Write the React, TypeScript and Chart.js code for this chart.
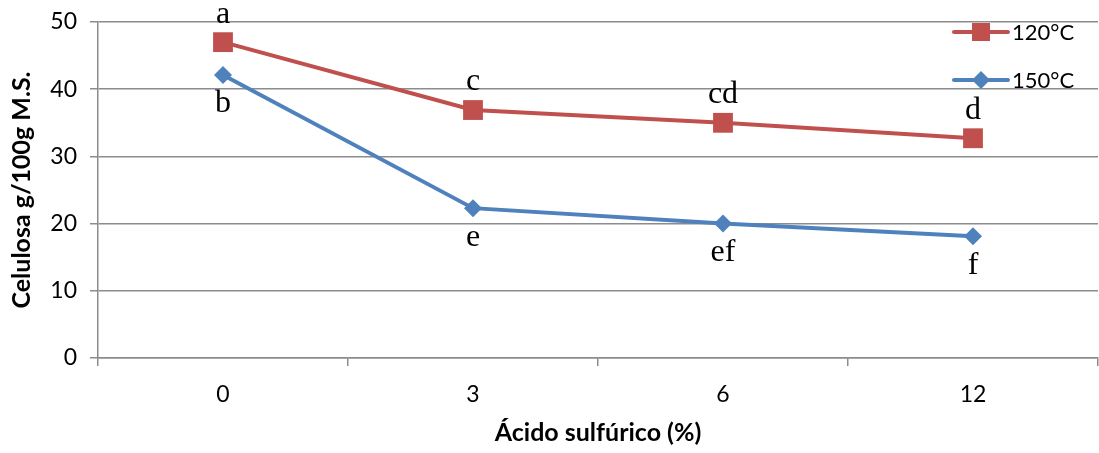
import React, { useEffect, useRef } from "react";
import { Chart, registerables } from "chart.js";

Chart.register(...registerables);

// Sulfuric acid concentration (%) on the x axis
const categories = ["0", "3", "6", "12"];

// Cellulose (g/100 g dry matter) per temperature
const series120 = [47.0, 36.9, 35.0, 32.7];
const series150 = [42.1, 22.3, 20.0, 18.1];

// Significance letters shown beside each point
const letters120 = ["a", "c", "cd", "d"];
const letters150 = ["b", "e", "ef", "f"];

const seriesNames = ["120°C", "150°C"];
const yTicks = [0, 10, 20, 30, 40, 50];

const RED = "#C0504D";
const BLUE = "#4F81BD";
const GRID = "#8c8c8c";
const SANS = "Lato, 'Liberation Sans', sans-serif";

const letterPlugin = {
  id: "letters",
  afterDatasetsDraw(chart: any) {
    const ctx = chart.ctx;
    ctx.save();
    ctx.font = "32px 'Liberation Serif', 'Times New Roman', serif";
    ctx.fillStyle = "#000";
    ctx.textAlign = "center";
    ctx.textBaseline = "middle";
    const sets = [
      { idx: 0, labels: letters120, dy: -28 },
      { idx: 1, labels: letters150, dy: 29 },
    ];
    sets.forEach((s) => {
      const meta = chart.getDatasetMeta(s.idx);
      meta.data.forEach((pt: any, i: number) => {
        ctx.fillText(s.labels[i], pt.x, pt.y + s.dy);
      });
    });
    ctx.restore();
  },
};

const legendPlugin = {
  id: "customLegend",
  afterDraw(chart: any) {
    const ctx = chart.ctx;
    ctx.save();
    const x0 = 954;
    const x1 = 1008;
    const rows = [
      { y: 32, color: RED, shape: "rect", text: seriesNames[0] },
      { y: 80, color: BLUE, shape: "diamond", text: seriesNames[1] },
    ];
    rows.forEach((r) => {
      ctx.strokeStyle = r.color;
      ctx.lineWidth = 4;
      ctx.lineCap = "round";
      ctx.beginPath();
      ctx.moveTo(x0, r.y);
      ctx.lineTo(x1, r.y);
      ctx.stroke();
      ctx.fillStyle = r.color;
      const cx = (x0 + x1) / 2;
      if (r.shape === "rect") {
        ctx.fillRect(cx - 9, r.y - 9, 18, 18);
      } else {
        ctx.beginPath();
        ctx.moveTo(cx, r.y - 9);
        ctx.lineTo(cx + 9, r.y);
        ctx.lineTo(cx, r.y + 9);
        ctx.lineTo(cx - 9, r.y);
        ctx.closePath();
        ctx.fill();
      }
      ctx.fillStyle = "#000";
      ctx.font = `22px ${SANS}`;
      ctx.textAlign = "left";
      ctx.textBaseline = "middle";
      ctx.fillText(r.text, x1 + 4, r.y + 1);
    });
    ctx.restore();
  },
};

export default function App() {
  const canvasRef = useRef<HTMLCanvasElement | null>(null);

  useEffect(() => {
    document.body.style.margin = "0";
    const canvas = canvasRef.current;
    if (!canvas) return;
    const chart = new Chart(canvas, {
      type: "line",
      data: {
        labels: categories,
        datasets: [
          {
            label: seriesNames[0],
            data: series120,
            borderColor: RED,
            backgroundColor: RED,
            borderWidth: 4,
            pointStyle: "rect",
            pointRadius: 14,
            pointHoverRadius: 14,
            pointBorderWidth: 0,
            tension: 0,
          },
          {
            label: seriesNames[1],
            data: series150,
            borderColor: BLUE,
            backgroundColor: BLUE,
            borderWidth: 4,
            pointStyle: "rectRot",
            pointRadius: 9,
            pointHoverRadius: 9,
            pointBorderWidth: 0,
            tension: 0,
          },
        ],
      },
      options: {
        animation: false,
        responsive: false,
        devicePixelRatio: 1,
        layout: {
          autoPadding: false,
          padding: { top: 22, right: 1, bottom: 0, left: 0 },
        },
        plugins: {
          legend: { display: false },
          tooltip: { enabled: false },
        },
        scales: {
          x: {
            offset: true,
            grid: {
              offset: true,
              drawOnChartArea: false,
              drawTicks: true,
              tickLength: 8,
              color: GRID,
              lineWidth: 1.5,
            },
            border: { display: true, color: GRID, width: 1.5 },
            ticks: {
              color: "#000",
              font: { family: SANS, size: 23 },
              padding: 15,
            },
            title: {
              display: true,
              text: "Ácido sulfúrico (%)",
              color: "#000",
              font: { family: SANS, size: 25, weight: "bold" },
              padding: { top: 8, bottom: 5 },
            },
            afterFit(scale: any) {
              scale.height = 95;
              scale.paddingLeft = 0;
              scale.paddingRight = 0;
            },
          },
          y: {
            min: 0,
            max: 50,
            afterBuildTicks(scale: any) {
              scale.ticks = yTicks.map((v) => ({ value: v }));
            },
            grid: {
              color: GRID,
              lineWidth: 1.5,
              drawTicks: true,
              tickLength: 8,
            },
            border: { display: true, color: GRID, width: 1.5 },
            ticks: {
              color: "#000",
              font: { family: SANS, size: 23 },
              padding: 13,
            },
            title: {
              display: true,
              text: "Celulosa g/100g M.S.",
              color: "#000",
              font: { family: SANS, size: 25, weight: "bold" },
              padding: { top: 7, bottom: 8 },
            },
            afterFit(scale: any) {
              scale.width = 98;
              scale.paddingTop = 0;
              scale.paddingBottom = 0;
            },
          },
        },
      },
      plugins: [letterPlugin, legendPlugin],
    });
    return () => chart.destroy();
  }, []);

  return (
    <div style={{ width: 1099, height: 453 }}>
      <canvas ref={canvasRef} width={1099} height={453} style={{ display: "block" }} />
    </div>
  );
}
